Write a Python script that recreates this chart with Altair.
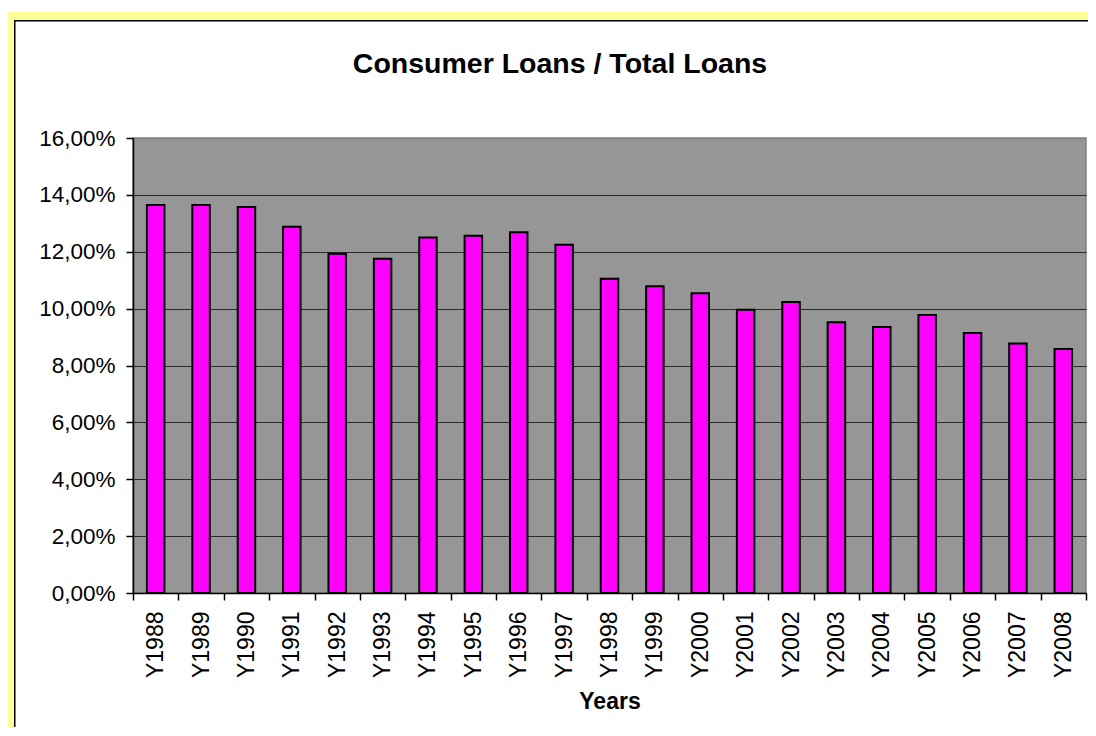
import altair as alt
import pandas as pd

years = ["Y1988", "Y1989", "Y1990", "Y1991", "Y1992", "Y1993", "Y1994",
         "Y1995", "Y1996", "Y1997", "Y1998", "Y1999", "Y2000", "Y2001",
         "Y2002", "Y2003", "Y2004", "Y2005", "Y2006", "Y2007", "Y2008"]
ratios = [0.1364, 0.1364, 0.1357, 0.1288, 0.1193, 0.1175, 0.1250,
          0.1256, 0.1269, 0.1225, 0.1105, 0.1079, 0.1054, 0.0996,
          0.1023, 0.0952, 0.0935, 0.0978, 0.0914, 0.0877, 0.0858]
y_ticks = [0.0, 0.02, 0.04, 0.06, 0.08, 0.10, 0.12, 0.14, 0.16]

W, H = 953, 455
FONT = "Liberation Sans"

df = pd.DataFrame({"year": years, "ratio": ratios})
one = pd.DataFrame({"k": [0]})

def strip(color, x, x2, y, y2):
    return alt.Chart(one).mark_rect(color=color).encode(
        x=alt.value(x), x2=alt.value(x2), y=alt.value(y), y2=alt.value(y2))

frame_layers = [
    strip("#ffff99", -125, 963, -126, -118),
    strip("#ffff99", -127, -119, -126, 600),
    strip("#000000", -119, 963, -118, -116.5),
    strip("#000000", -119, -117.5, -118, 600),
]

bars = alt.Chart(df).mark_bar(
    width=17.5, color="#FF00FF", stroke="black", strokeWidth=2
).encode(
    x=alt.X("year:N", sort=years,
            scale=alt.Scale(paddingInner=0, paddingOuter=0),
            axis=alt.Axis(labelAngle=-90, labelFont=FONT, labelFontSize=23,
                          labelColor="black", labelPadding=11, tickSize=7,
                          tickColor="black", tickWidth=1.5, tickBand="extent",
                          domainColor="black", domainWidth=1.5, grid=False,
                          title="Years", titleFont=FONT, titleFontSize=23,
                          titleFontWeight="bold", titleColor="black",
                          titlePadding=13)),
    y=alt.Y("ratio:Q",
            scale=alt.Scale(domain=[0, 0.16], nice=False, zero=True),
            axis=alt.Axis(values=y_ticks,
                          labelExpr="replace(format(datum.value, '.2%'), '.', ',')",
                          labelFont=FONT, labelFontSize=22.5, labelColor="black",
                          labelPadding=11, tickSize=7, tickColor="black",
                          tickWidth=1.5, domainColor="black", domainWidth=1.5,
                          grid=True, gridWidth=1.2,
                          gridColor={"condition": {"test": "datum.value >= 0.159",
                                                   "value": "#808080"},
                                     "value": "#2a2a2a"},
                          title=None)),
)

chart = alt.layer(*frame_layers, bars).properties(
    width=W, height=H,
    autosize=alt.AutoSizeParams(type="none"),
    padding={"left": 125, "top": 130, "right": 2, "bottom": 134},
    background="white",
    title=alt.Title("Consumer Loans / Total Loans", font=FONT, fontSize=28.5,
                    fontWeight="bold", color="black", anchor="middle",
                    frame="group", offset=0, dx=-49.5, dy=66),
).configure_view(fill="#969696", stroke="#808080", strokeWidth=1.5)

chart.save("out.html", embed_options={"renderer": "svg", "actions": False})
